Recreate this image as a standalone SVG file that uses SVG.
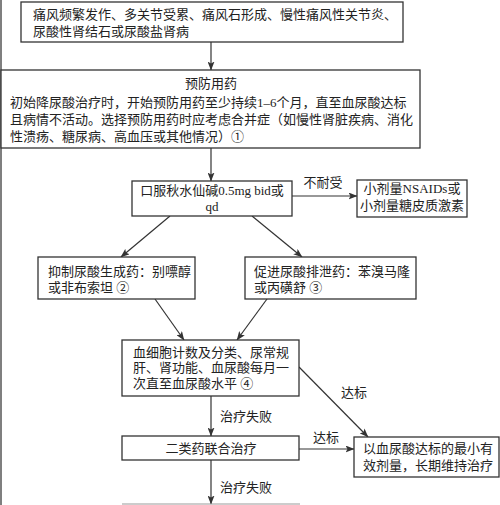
<svg xmlns="http://www.w3.org/2000/svg" width="500" height="505" viewBox="0 0 500 505">
<style>
.b{fill:#fff;stroke:#333;stroke-width:1.3}
.t{font-family:"Liberation Serif","Noto Sans CJK SC",serif;font-size:13px;fill:#222}
.c{text-anchor:middle}
.l{stroke:#333;stroke-width:1.2;fill:none;marker-end:url(#a)}
</style>
<defs>
<marker id="a" markerWidth="9" markerHeight="7" refX="8.5" refY="3.5" orient="auto" markerUnits="userSpaceOnUse">
<path d="M0,0 L9,3.5 L0,7 L2,3.5 Z" fill="#333"/>
</marker>
</defs>
<rect width="500" height="505" fill="#fff"/>
<line x1="1" y1="0" x2="1" y2="505" stroke="#555" stroke-width="1.5"/>
<g id="connectors">
<line class="l" x1="211" y1="42" x2="211" y2="70"/>
<line class="l" x1="211" y1="148" x2="211" y2="181"/>
<line class="l" x1="292" y1="196" x2="357" y2="196"/>
<text class="t c" x="323" y="187">不耐受</text>
<line class="l" x1="170" y1="216" x2="121" y2="257"/>
<line class="l" x1="252" y1="216" x2="302" y2="257"/>
<line class="l" x1="155" y1="299" x2="184" y2="340"/>
<line class="l" x1="267" y1="299" x2="237" y2="340"/>
<line class="l" x1="299" y1="367" x2="368" y2="437"/>
<text class="t" x="341" y="397">达标</text>
<line class="l" x1="211" y1="396" x2="211" y2="436"/>
<text class="t" x="220" y="421">治疗失败</text>
<line class="l" x1="299" y1="449" x2="354" y2="449"/>
<text class="t" x="313" y="442">达标</text>
<line class="l" x1="211" y1="460" x2="211" y2="504"/>
<text class="t" x="220" y="492">治疗失败</text>
<line x1="122" y1="504" x2="300" y2="504" stroke="#999" stroke-width="1"/>
</g>
<g id="n1">
<rect class="b" x="21" y="2" width="382" height="40"/>
<text class="t" x="33" y="19">痛风频繁发作、多关节受累、痛风石形成、慢性痛风性关节炎、</text>
<text class="t" x="33" y="36">尿酸性肾结石或尿酸盐肾病</text>
</g>
<g id="n2">
<rect class="b" x="1" y="70" width="419" height="78"/>
<text class="t c" x="211" y="88">预防用药</text>
<text class="t" x="10" y="107">初始降尿酸治疗时，开始预防用药至少持续1–6个月，直至血尿酸达标</text>
<text class="t" x="10" y="124">且病情不活动。选择预防用药时应考虑合并症（如慢性肾脏疾病、消化</text>
<text class="t" x="10" y="141">性溃疡、糖尿病、高血压或其他情况）①</text>
</g>
<g id="n3">
<rect class="b" x="132" y="181" width="160" height="35"/>
<text class="t c" x="212" y="195">口服秋水仙碱0.5mg bid或</text>
<text class="t c" x="212" y="211">qd</text>
</g>
<g id="n4">
<rect class="b" x="357" y="180" width="110" height="37"/>
<text class="t c" x="412" y="193">小剂量NSAIDs或</text>
<text class="t c" x="412" y="210">小剂量糖皮质激素</text>
</g>
<g id="n5">
<rect class="b" x="38" y="257" width="157" height="42"/>
<text class="t" x="48" y="276">抑制尿酸生成药：别嘌醇</text>
<text class="t" x="48" y="292">或非布索坦 ②</text>
</g>
<g id="n6">
<rect class="b" x="245" y="257" width="171" height="42"/>
<text class="t" x="254" y="276">促进尿酸排泄药：苯溴马隆</text>
<text class="t" x="254" y="292">或丙磺舒 ③</text>
</g>
<g id="n7">
<rect class="b" x="122" y="340" width="177" height="56"/>
<text class="t" x="133" y="357">血细胞计数及分类、尿常规</text>
<text class="t" x="133" y="372">肝、肾功能、血尿酸每月一</text>
<text class="t" x="133" y="388">次直至血尿酸水平 ④</text>
</g>
<g id="n8">
<rect class="b" x="122" y="436" width="177" height="24"/>
<text class="t c" x="211" y="453">二类药联合治疗</text>
</g>
<g id="n9">
<rect class="b" x="354" y="437" width="145" height="40"/>
<text class="t" x="363" y="453">以血尿酸达标的最小有</text>
<text class="t" x="363" y="470">效剂量，长期维持治疗</text>
</g>
</svg>
